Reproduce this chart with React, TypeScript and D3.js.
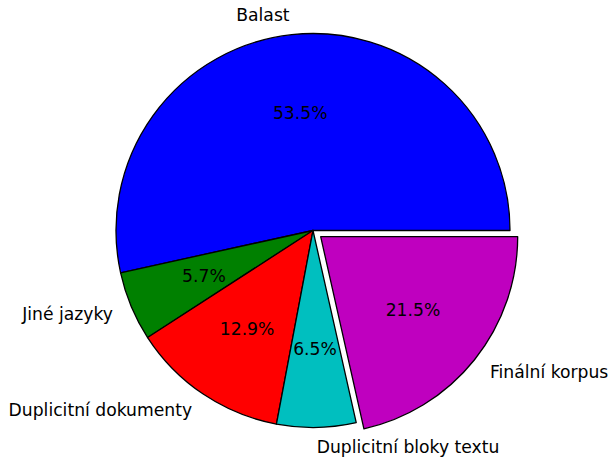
import * as d3 from "d3";

const labels = ["Balast", "Jiné jazyky", "Duplicitní dokumenty", "Duplicitní bloky textu", "Finální korpus"];
const values = [53.5, 5.7, 12.9, 6.5, 21.5];
const colors = ["#0000ff", "#008000", "#ff0000", "#00bfbf", "#bf00bf"];
const explode = [0, 0, 0, 0, 0.05];

export default function App() {
  const width = 612;
  const height = 457;
  const cx = 313;
  const cy = 230.5;
  const r = 197;

  // matplotlib style: start at 3 o'clock, counterclockwise
  const pie = d3
    .pie<number>()
    .sort(null)
    .startAngle(Math.PI / 2)
    .endAngle(Math.PI / 2 - 2 * Math.PI);
  const arcs = pie(values);
  const arc = d3.arc<d3.PieArcDatum<number>>().innerRadius(0).outerRadius(r);

  return (
    <svg
      width={width}
      height={height}
      style={{ position: "absolute", left: 0, top: 0, fontFamily: "DejaVu Sans", fontSize: "17.2px" }}
    >
      <rect width={width} height={height} fill="#fff" />
      {arcs.map((a, i) => {
        const mid = (a.startAngle + a.endAngle) / 2;
        const dx = Math.sin(mid);
        const dy = -Math.cos(mid);
        const ox = cx + explode[i] * r * dx;
        const oy = cy + explode[i] * r * dy;
        const lx = ox + 1.1 * r * dx;
        const ly = oy + 1.1 * r * dy;
        const px = ox + 0.6 * r * dx;
        const py = oy + 0.6 * r * dy;
        return (
          <g key={i}>
            <path
              d={arc(a) || ""}
              transform={`translate(${ox},${oy})`}
              fill={colors[i]}
              stroke="#000"
              strokeWidth={1.3}
              strokeLinejoin="round"
            />
            <text x={px} y={py} textAnchor="middle" dominantBaseline="central" fill="#000">
              {values[i].toFixed(1)}%
            </text>
            <text x={lx} y={ly} textAnchor={dx > 0 ? "start" : "end"} dominantBaseline="central" fill="#000">
              {labels[i]}
            </text>
          </g>
        );
      })}
    </svg>
  );
}
